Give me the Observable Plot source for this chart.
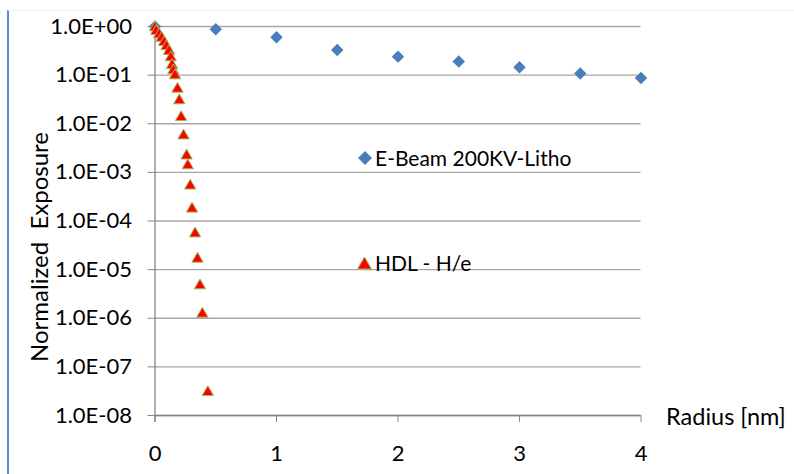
<!DOCTYPE html>
<html>
<head>
<meta charset="utf-8">
<script src="https://cdn.jsdelivr.net/npm/d3@7"></script>
<script src="https://cdn.jsdelivr.net/npm/@observablehq/plot@0.6"></script>
<style>
  html, body { margin: 0; padding: 0; background: #fff; }
  #wrap { position: relative; width: 794px; height: 474px; overflow: hidden; font-family: Lato, "Open Sans", sans-serif; }
  #border { position: absolute; left: 7px; top: 10px; width: 794px; height: 470px; border-left: 2px solid #5b8bd0; border-top: 1px solid #eceff5; box-sizing: border-box; pointer-events: none; }
  .leg { position: absolute; display: flex; align-items: center; font-size: 21px; line-height: 22px; height: 22px; color: #000; white-space: nowrap; }
  .leg svg { margin-right: 2px; }
</style>
</head>
<body>
<div id="wrap">
  <div id="chart"></div>
  <div id="border"></div>
</div>
<script>
// ---- data ----
const ebX = [0, 0.5, 1, 1.5, 2, 2.5, 3, 3.5, 4];
const ebY = [1.0, 0.88, 0.6, 0.33, 0.24, 0.19, 0.145, 0.108, 0.087];
const hdlX = [0, 0.01, 0.035, 0.055, 0.075, 0.095, 0.115, 0.13, 0.14, 0.15, 0.165, 0.185, 0.2, 0.215, 0.235, 0.26, 0.27, 0.29, 0.305, 0.33, 0.35, 0.37, 0.39, 0.435];
const hdlY = [0.95, 0.8, 0.68, 0.58, 0.475, 0.39, 0.31, 0.23, 0.16, 0.124, 0.098, 0.052, 0.030, 0.0136, 0.0057, 0.0022, 0.00138, 0.00053, 0.000178, 5.5e-5, 1.66e-5, 4.7e-6, 1.23e-6, 3.0e-8];
const seriesNames = ["E-Beam 200KV-Litho", "HDL - H/e"];
const xTicks = [0, 1, 2, 3, 4];
const xTickLabels = ["0", "1", "2", "3", "4"];
const yTicks = [1, 1e-1, 1e-2, 1e-3, 1e-4, 1e-5, 1e-6, 1e-7, 1e-8];
const yTickLabels = ["1.0E+00", "1.0E-01", "1.0E-02", "1.0E-03", "1.0E-04", "1.0E-05", "1.0E-06", "1.0E-07", "1.0E-08"];
const xTitle = "Radius [nm]";
const yTitle = "Normalized\u00a0\u00a0Exposure";

const eb = ebX.map((x, i) => ({x, y: ebY[i]}));
const hdl = hdlX.map((x, i) => ({x, y: hdlY[i]}));
const yTickData = yTicks.map((v, i) => ({v, label: yTickLabels[i]}));

const axisColor = "#868686";
const gridColor = "#a6a6a6";
const fs = 22;

const chart = Plot.plot({
  width: 794,
  height: 474,
  marginLeft: 154.5,
  marginRight: 153.5,
  marginTop: 26,
  marginBottom: 59,
  style: {fontFamily: "Lato, 'Open Sans', sans-serif", fontSize: fs + "px", color: "#000", background: "transparent"},
  x: {type: "linear", domain: [0, 4]},
  y: {type: "log", domain: [1e-8, 1]},
  marks: [
    Plot.gridY(yTicks, {stroke: gridColor, strokeOpacity: 1, strokeWidth: 1.3}),
    Plot.ruleY([1e-8], {stroke: axisColor, strokeWidth: 1.3}),
    Plot.ruleX([0], {stroke: axisColor, strokeWidth: 1.3, insetBottom: -7}),
    Plot.axisY(yTicks, {anchor: "left", tickSize: 7, stroke: axisColor, label: null, tickFormat: () => ""}),
    Plot.text(yTickData, {y: "v", text: "label", frameAnchor: "left", dx: -23, textAnchor: "end", fontSize: fs, fill: "#000"}),
    Plot.axisX(xTicks, {anchor: "bottom", tickSize: 7, tickPadding: 23, stroke: axisColor, fill: "#000", label: null,
      tickFormat: (d) => xTickLabels[xTicks.indexOf(d)], fontSize: fs}),
    Plot.text([xTitle], {text: d => d, frameAnchor: "bottom-right", dx: 25, dy: 9, textAnchor: "start", fontSize: 23.5, fill: "#000"}),
    Plot.text([yTitle], {text: d => d, frameAnchor: "left", dx: -115, dy: 26, rotate: -90, textAnchor: "middle", fontSize: 24, fill: "#000"}),
    Plot.dot(eb, {x: "x", y: "y", symbol: "diamond2", r: 5.6, fill: "#4a7ebb", stroke: "none"}),
    Plot.dot(hdl, {x: "x", y: "y", symbol: "triangle2", r: 5.4, fill: "#ff0000", stroke: "#9bbb59", strokeWidth: 1})
  ]
});
document.getElementById("chart").appendChild(chart);

// legend overlay
const wrap = document.getElementById("wrap");
const legendItems = [
  {name: seriesNames[0], left: 357, top: 147, sym: '<svg width="16" height="16"><path d="M8,1 L15,8 L8,15 L1,8 Z" fill="#4a7ebb"/></svg>'},
  {name: seriesNames[1], left: 356, top: 252, sym: '<svg width="17" height="16"><path d="M8.5,2 L15.5,14 L1.5,14 Z" fill="#ff0000" stroke="#9bbb59" stroke-width="1"/></svg>'}
];
for (const it of legendItems) {
  const d = document.createElement("div");
  d.className = "leg";
  d.style.left = it.left + "px";
  d.style.top = it.top + "px";
  d.innerHTML = it.sym + "<span>" + it.name + "</span>";
  wrap.appendChild(d);
}
</script>
</body>
</html>
